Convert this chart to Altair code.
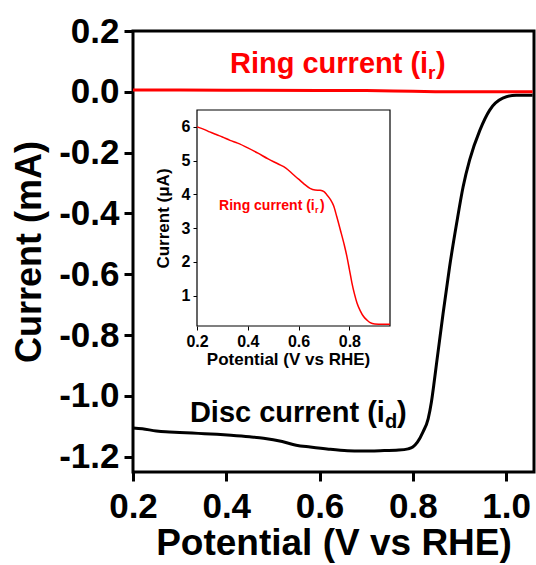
import altair as alt
import pandas as pd

# ---------------- data ----------------
disc_v = [0.20, 0.22, 0.25, 0.27, 0.30, 0.34, 0.38, 0.41, 0.45, 0.48, 0.52, 0.55,
          0.58, 0.62, 0.66, 0.69, 0.73, 0.77, 0.79, 0.80, 0.81, 0.822, 0.833, 0.840,
          0.845, 0.851, 0.865, 0.879, 0.894, 0.908, 0.922, 0.944, 0.965, 0.993,
          1.022, 1.057]
disc_i = [-1.105, -1.108, -1.115, -1.118, -1.120, -1.123, -1.126, -1.129, -1.134,
          -1.139, -1.150, -1.162, -1.168, -1.175, -1.180, -1.181, -1.180, -1.178,
          -1.174, -1.168, -1.152, -1.118, -1.075, -1.020, -0.965, -0.893, -0.729,
          -0.575, -0.433, -0.312, -0.224, -0.126, -0.060, -0.021, -0.011, -0.011]

ring_main_v = [0.20, 0.40, 0.60, 0.70, 0.80, 0.90, 1.057]
ring_main_i = [0.0062, 0.0054, 0.0044, 0.0040, 0.0018, 0.0002, 0.0001]

ring_inset_v = [0.20, 0.23, 0.25, 0.28, 0.30, 0.33, 0.36, 0.40, 0.44, 0.48, 0.52,
                0.55, 0.58, 0.60, 0.62, 0.645, 0.665, 0.685, 0.70, 0.71, 0.725,
                0.738, 0.75, 0.764, 0.78, 0.79, 0.80, 0.81, 0.82, 0.83, 0.843,
                0.856, 0.87, 0.882, 0.90, 0.93, 0.96]
ring_inset_i = [6.00, 5.92, 5.85, 5.76, 5.70, 5.60, 5.52, 5.38, 5.22, 5.05, 4.90,
                4.78, 4.58, 4.45, 4.32, 4.18, 4.13, 4.12, 4.08, 4.00, 3.85,
                3.66, 3.35, 2.96, 2.50, 2.17, 1.78, 1.38, 1.05, 0.78, 0.55,
                0.38, 0.27, 0.20, 0.16, 0.15, 0.15]

main_x_ticks = [0.2, 0.4, 0.6, 0.8, 1.0]
main_y_ticks = [-1.2, -1.0, -0.8, -0.6, -0.4, -0.2, 0.0, 0.2]
inset_x_ticks = [0.2, 0.4, 0.6, 0.8]
inset_y_ticks = [1, 2, 3, 4, 5, 6]

main_x_domain = [0.2, 1.06]
main_y_domain = [-1.25, 0.2]
inset_x_domain = [0.2, 0.96]
inset_y_domain = [0.1, 6.5]

disc_df = pd.DataFrame({"V": disc_v, "I": disc_i})
ring_main_df = pd.DataFrame({"V": ring_main_v, "I": ring_main_i})
ring_inset_df = pd.DataFrame({"V": ring_inset_v, "I": ring_inset_i})

FONT = "Liberation Sans"
one = alt.Data(values=[{}])

# ---------------- main axes / scales ----------------
xs_main = alt.Scale(domain=main_x_domain, nice=False, zero=False)
ys_main = alt.Scale(domain=main_y_domain, nice=False, zero=False)

ax_main_x = alt.Axis(values=main_x_ticks, format=".1f", title="Potential (V vs RHE)",
                     labelFont=FONT, labelFontSize=35, labelFontWeight="bold",
                     titleFont=FONT, titleFontSize=37, titleFontWeight="bold",
                     tickSize=9, tickWidth=3, tickColor="black", domain=False,
                     labelColor="black", titleColor="black", labelPadding=8,
                     titlePadding=1, grid=False, labelFlush=False, labelOverlap=False)
ax_main_y = alt.Axis(values=main_y_ticks, title="Current (mA)",
                     labelExpr="datum.value < 0 ? '-' + format(-datum.value, '.1f') : format(datum.value, '.1f')",
                     labelFont=FONT, labelFontSize=35, labelFontWeight="bold",
                     titleFont=FONT, titleFontSize=36, titleFontWeight="bold",
                     tickSize=9, tickWidth=3, tickColor="black", domain=False,
                     labelColor="black", titleColor="black", labelPadding=5,
                     titlePadding=10, grid=False, labelFlush=False, labelOverlap=False)

def mx(field):
    return alt.X(field, type="quantitative", scale=xs_main, axis=ax_main_x)

def my(field):
    return alt.Y(field, type="quantitative", scale=ys_main, axis=ax_main_y)

disc = alt.Chart(disc_df).mark_line(color="black", strokeWidth=3, interpolate="monotone").encode(
    x=mx("V"), y=my("I"))
ring_main = alt.Chart(ring_main_df).mark_line(color="#ff0000", strokeWidth=3, interpolate="monotone").encode(
    x=mx("V"), y=my("I"))

def main_text(txt, vx, vy, size, color, dx=0, dy=0):
    return alt.Chart(one).mark_text(
        text=txt, font=FONT, fontSize=size, fontWeight="bold", color=color,
        align="left", baseline="alphabetic", dx=dx, dy=dy).encode(
        x=alt.XDatum(vx, type="quantitative", scale=xs_main, axis=ax_main_x),
        y=alt.YDatum(vy, type="quantitative", scale=ys_main, axis=ax_main_y))

ring_lbl = [
    main_text("Ring current (i", 0.408, 0.062, 29, "#ff0000"),
    main_text("r", 0.408, 0.062, 19, "#ff0000", dx=198, dy=6),
    main_text(")", 0.408, 0.062, 29, "#ff0000", dx=206),
]
disc_lbl = [
    main_text("Disc current (i", 0.322, -1.086, 29, "black"),
    main_text("d", 0.322, -1.086, 20, "black", dx=195, dy=6),
    main_text(")", 0.322, -1.086, 29, "black", dx=207),
]

main = alt.layer(disc, ring_main, *ring_lbl, *disc_lbl)

# ---------------- inset ----------------
xs_in = alt.Scale(domain=inset_x_domain, range=[64, 257], nice=False, zero=False)
ys_in = alt.Scale(domain=inset_y_domain, range=[295, 79], nice=False, zero=False)

ax_in_x = alt.Axis(values=inset_x_ticks, format=".1f", title="Potential (V vs RHE)",
                   orient="bottom", offset=-146, titleX=155,
                   labelFont=FONT, labelFontSize=16, labelFontWeight="bold",
                   titleFont=FONT, titleFontSize=17, titleFontWeight="bold",
                   tickSize=4, tickWidth=1, tickColor="black", domain=False,
                   labelColor="black", titleColor="black", labelPadding=3,
                   titlePadding=2, grid=False, labelFlush=False, labelOverlap=False)
ax_in_y = alt.Axis(values=inset_y_ticks, format="d", title="Current (μA)",
                   orient="left", offset=-64,
                   labelFont=FONT, labelFontSize=16, labelFontWeight="bold",
                   titleFont=FONT, titleFontSize=17, titleFontWeight="bold",
                   tickSize=4, tickWidth=1, tickColor="black", domain=False,
                   labelColor="black", titleColor="black", labelPadding=3,
                   titlePadding=9, grid=False, labelFlush=False, labelOverlap=False)

frame = alt.Chart(one).mark_rect(fill="white", stroke="black", strokeWidth=1.2).encode(
    x=alt.XDatum(inset_x_domain[0], type="quantitative", scale=xs_in, axis=ax_in_x),
    x2=alt.X2Datum(inset_x_domain[1]),
    y=alt.YDatum(inset_y_domain[0], type="quantitative", scale=ys_in, axis=ax_in_y),
    y2=alt.Y2Datum(inset_y_domain[1]))

ring_in = alt.Chart(ring_inset_df).mark_line(color="#ff0000", strokeWidth=1.5, interpolate="monotone").encode(
    x=alt.X("V:Q", scale=xs_in, axis=ax_in_x),
    y=alt.Y("I:Q", scale=ys_in, axis=ax_in_y))

def in_text(txt, vx, vy, size, dx=0, dy=0):
    return alt.Chart(one).mark_text(
        text=txt, font=FONT, fontSize=size, fontWeight="bold", color="#ff0000",
        align="left", baseline="alphabetic", dx=dx, dy=dy).encode(
        x=alt.XDatum(vx, type="quantitative", scale=xs_in, axis=ax_in_x),
        y=alt.YDatum(vy, type="quantitative", scale=ys_in, axis=ax_in_y))

in_lbl = [
    in_text("Ring current (i", 0.287, 3.54, 14),
    in_text("r", 0.287, 3.54, 9, dx=96, dy=3),
    in_text(")", 0.287, 3.54, 14, dx=101),
]

inset = alt.layer(frame, ring_in, *in_lbl)

chart = alt.layer(main, inset).resolve_scale(x="independent", y="independent").properties(
    width=401, height=441,
    padding={"left": 133, "top": 31, "right": 2, "bottom": 93},
    autosize=alt.AutoSizeParams(type="none"),
    background="white",
).configure_view(stroke="black", strokeWidth=3)

chart.save("out.html", embed_options={"renderer": "svg", "actions": False})
